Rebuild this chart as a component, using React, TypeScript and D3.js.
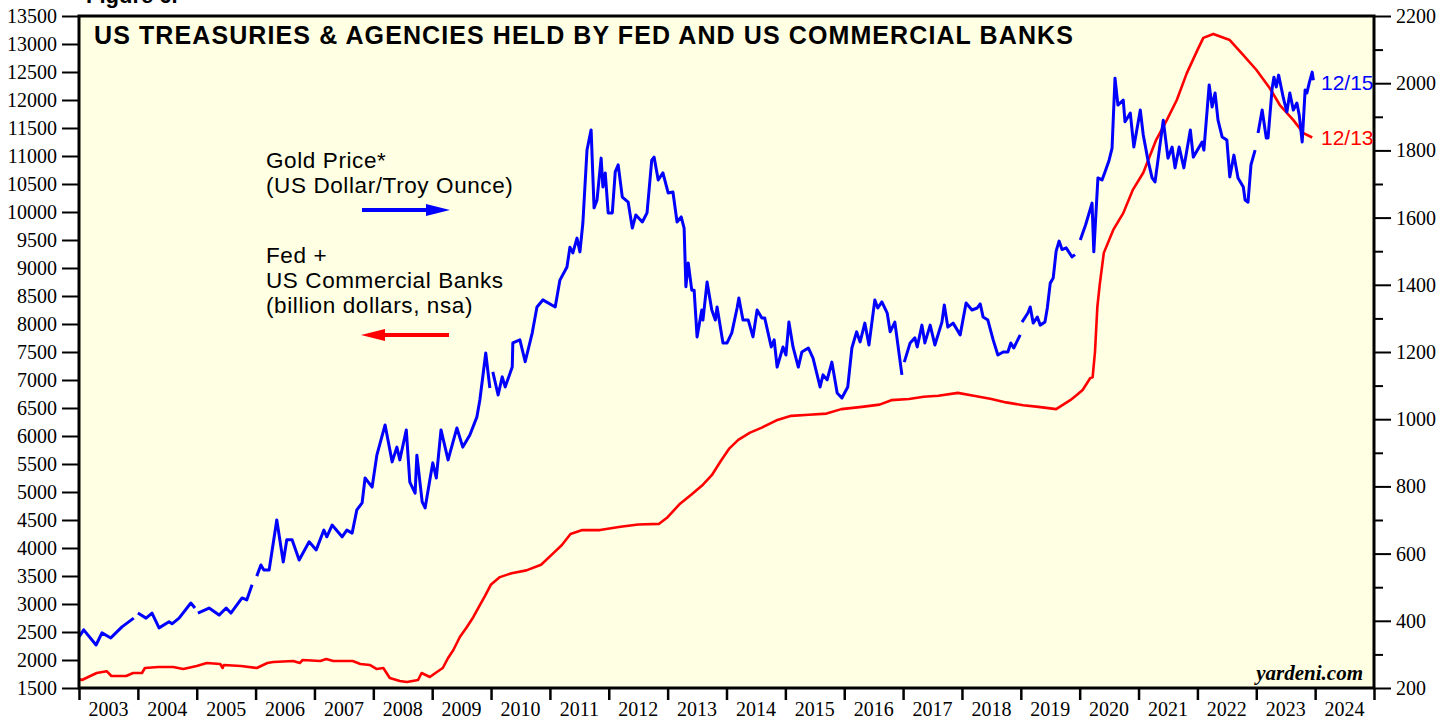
import React, { useRef, useEffect } from "react";
import * as d3 from "d3";

// Fed + US commercial banks holdings of Treasuries & agencies (billion $, left axis)
const fedDates = [
  2003.0, 2003.05, 2003.3, 2003.47, 2003.55, 2003.8, 2003.92, 2004.07, 2004.12, 2004.35,
  2004.6, 2004.77, 2005.0, 2005.17, 2005.4, 2005.44, 2005.46, 2005.75, 2006.02, 2006.2,
  2006.3, 2006.64, 2006.75, 2006.8, 2007.1, 2007.2, 2007.32, 2007.65, 2007.78, 2007.94,
  2008.06, 2008.17, 2008.28, 2008.45, 2008.57, 2008.76, 2008.82, 2008.96, 2009.08, 2009.18,
  2009.27, 2009.36, 2009.47, 2009.59, 2009.7, 2009.81, 2009.9, 2010.0, 2010.15, 2010.35,
  2010.6, 2010.85, 2011.05, 2011.2, 2011.35, 2011.55, 2011.85, 2012.2, 2012.5, 2012.85,
  2013.0, 2013.2, 2013.4, 2013.6, 2013.75, 2013.9, 2014.05, 2014.2, 2014.4, 2014.6,
  2014.85, 2015.1, 2015.4, 2015.7, 2015.95, 2016.3, 2016.6, 2016.8, 2017.1, 2017.35,
  2017.6, 2017.93, 2018.2, 2018.5, 2018.75, 2019.04, 2019.3, 2019.6, 2019.84, 2019.95,
  2020.05, 2020.18, 2020.22, 2020.26, 2020.3, 2020.34, 2020.41, 2020.57, 2020.74, 2020.9,
  2021.08, 2021.3, 2021.48, 2021.65, 2021.82, 2022.0, 2022.1, 2022.27, 2022.55, 2022.78,
  2023.0, 2023.23, 2023.4, 2023.63, 2023.8, 2023.95,
];
const fedValues = [
  1660, 1643, 1768, 1800, 1714, 1714, 1768, 1768, 1857, 1875,
  1875, 1840, 1893, 1946, 1929, 1857, 1911, 1893, 1857, 1946,
  1964, 1982, 1946, 2000, 1982, 2018, 1982, 1982, 1929, 1911,
  1839, 1857, 1679, 1625, 1607, 1643, 1768, 1696, 1786, 1857,
  2036, 2179, 2411, 2589, 2768, 2982, 3150, 3350, 3480, 3550,
  3600, 3700, 3900, 4050, 4250, 4320, 4320, 4380, 4420, 4430,
  4550, 4780, 4950, 5130, 5300, 5550, 5780, 5930, 6060, 6150,
  6280, 6360, 6380, 6400, 6480, 6520, 6560, 6640, 6660, 6700,
  6720, 6770, 6720, 6660, 6600, 6550, 6520, 6480, 6640, 6732,
  6821, 7036, 7050, 7500, 8300, 8700, 9270, 9680, 9980, 10390,
  10700, 11290, 11640, 12000, 12480, 12890, 13110, 13180, 13070, 12800,
  12540, 12210, 11910, 11640, 11410, 11330,
];

// Gold price, US$ per troy ounce (right axis); null marks a break in the series
const goldDates = [
  2003.0, 2003.08, 2003.29, 2003.39, 2003.54, 2003.73, 2003.93, 2003.96,
  2004.0, 2004.14, 2004.24, 2004.36, 2004.53, 2004.58, 2004.7, 2004.9, 2004.97, 2004.99,
  2005.02, 2005.21, 2005.38, 2005.5, 2005.58, 2005.77, 2005.85, 2005.94, 2005.98,
  2006.02, 2006.09, 2006.14, 2006.23, 2006.36, 2006.47, 2006.53, 2006.62, 2006.74, 2006.91,
  2007.03, 2007.16, 2007.21, 2007.3, 2007.47, 2007.55, 2007.64, 2007.72, 2007.81, 2007.86,
  2007.98, 2008.06, 2008.2, 2008.32, 2008.4, 2008.45, 2008.56, 2008.62, 2008.71, 2008.74,
  2008.83, 2008.88, 2008.96, 2009.01, 2009.07, 2009.15, 2009.27, 2009.42, 2009.52, 2009.64,
  2009.76, 2009.81, 2009.91, 2009.98, 2010.0,
  2010.03, 2010.12, 2010.19, 2010.24, 2010.36, 2010.37, 2010.49, 2010.58, 2010.7, 2010.78,
  2010.88, 2011.09, 2011.17, 2011.29, 2011.34, 2011.39, 2011.46, 2011.51, 2011.56, 2011.63,
  2011.7, 2011.75, 2011.8, 2011.87, 2011.9, 2011.94, 2011.99, 2012.06, 2012.11, 2012.16,
  2012.23, 2012.33, 2012.4, 2012.46, 2012.57, 2012.65, 2012.73, 2012.77, 2012.84, 2012.92,
  2013.01, 2013.09, 2013.16, 2013.23, 2013.28, 2013.31, 2013.35, 2013.41, 2013.45, 2013.5,
  2013.58, 2013.6, 2013.67, 2013.75, 2013.81, 2013.84, 2013.94, 2014.01, 2014.09, 2014.18,
  2014.21, 2014.28, 2014.37, 2014.45, 2014.52, 2014.6, 2014.65, 2014.76, 2014.81, 2014.86,
  2014.96, 2015.01, 2015.06, 2015.13, 2015.22, 2015.28, 2015.39, 2015.47, 2015.59, 2015.64,
  2015.71, 2015.79, 2015.88, 2015.96, 2016.06, 2016.13, 2016.21, 2016.27, 2016.35, 2016.42,
  2016.52, 2016.57, 2016.64, 2016.73, 2016.78, 2016.86, 2016.98, 2017.0,
  2017.02, 2017.12, 2017.2, 2017.24, 2017.32, 2017.37, 2017.46, 2017.54, 2017.66, 2017.7,
  2017.76, 2017.85, 2017.97, 2018.07, 2018.17, 2018.26, 2018.31, 2018.36, 2018.44, 2018.53,
  2018.61, 2018.7, 2018.78, 2018.83, 2018.88, 2018.99, 2019.0,
  2019.02, 2019.12, 2019.16, 2019.21, 2019.28, 2019.33, 2019.41, 2019.45, 2019.5, 2019.55,
  2019.6, 2019.65, 2019.7, 2019.77, 2019.87, 2019.92, 2019.96,
  2020.01, 2020.1, 2020.21, 2020.24, 2020.31, 2020.38, 2020.43, 2020.5, 2020.55, 2020.6,
  2020.65, 2020.74, 2020.77, 2020.86, 2020.92, 2021.03, 2021.08, 2021.16, 2021.23, 2021.28,
  2021.33, 2021.42, 2021.5, 2021.57, 2021.62, 2021.69, 2021.77, 2021.88, 2021.93, 2022.08,
  2022.11, 2022.2, 2022.25, 2022.3, 2022.35, 2022.42, 2022.5, 2022.55, 2022.62, 2022.69,
  2022.78, 2022.81, 2022.86, 2022.91, 2022.98, 2023.0,
  2023.03, 2023.1, 2023.17, 2023.2, 2023.27, 2023.3, 2023.34, 2023.38, 2023.46, 2023.52,
  2023.57, 2023.63, 2023.69, 2023.73, 2023.78, 2023.83, 2023.86, 2023.9, 2023.95, 2023.97,
];
const goldPrices: (number | null)[] = [
  352, 373, 328, 364, 349, 382, 408, null,
  423, 408, 423, 379, 397, 391, 408, 453, 438, null,
  423, 438, 417, 438, 423, 468, 462, 507, null,
  533, 566, 551, 551, 700, 575, 641, 641, 581, 635,
  611, 670, 650, 685, 650, 670, 661, 730, 751, 825,
  798, 893, 983, 873, 917, 879, 968, 813, 780, 893,
  754, 736, 819, 870, 825, 968, 879, 974, 917, 953,
  1007, 1057, 1197, 1093, null,
  1141, 1072, 1126, 1096, 1155, 1227, 1236, 1171, 1257, 1334,
  1355, 1334, 1414, 1453, 1512, 1495, 1539, 1498, 1584, 1801,
  1861, 1629, 1652, 1777, 1691, 1733, 1614, 1614, 1736, 1757,
  1661, 1646, 1569, 1608, 1587, 1614, 1771, 1780, 1712, 1733,
  1673, 1676, 1587, 1602, 1569, 1394, 1465, 1384, 1384, 1245,
  1325, 1295, 1408, 1325, 1295, 1334, 1227, 1227, 1257, 1331,
  1361, 1295, 1295, 1245, 1325, 1301, 1301, 1215, 1236, 1155,
  1215, 1191, 1289, 1215, 1155, 1200, 1212, 1182, 1096, 1132,
  1117, 1170, 1078, 1063, 1096, 1212, 1260, 1230, 1286, 1221,
  1355, 1331, 1349, 1316, 1260, 1289, 1132, null,
  1170, 1227, 1242, 1215, 1280, 1227, 1280, 1221, 1289, 1340,
  1274, 1286, 1251, 1346, 1325, 1331, 1343, 1304, 1295, 1236,
  1191, 1200, 1200, 1227, 1212, 1251, null,
  1289, 1316, 1334, 1286, 1304, 1280, 1289, 1331, 1405, 1420,
  1500, 1530, 1505, 1510, 1483, 1490, null,
  1533, 1578, 1643, 1498, 1718, 1712, 1736, 1771, 1807, 2015,
  1935, 1950, 1885, 1911, 1810, 1920, 1846, 1771, 1718, 1706,
  1771, 1890, 1777, 1810, 1748, 1810, 1748, 1861, 1780, 1825,
  1801, 1995, 1929, 1971, 1890, 1840, 1831, 1721, 1786, 1718,
  1691, 1652, 1646, 1757, 1801, null,
  1852, 1920, 1837, 1837, 1986, 2018, 1989, 2024, 1956, 1914,
  1971, 1920, 1941, 1905, 1825, 1980, 1971, 2001, 2033, 2009,
];

const yearLabels = [
  2003, 2004, 2005, 2006, 2007, 2008, 2009, 2010, 2011, 2012, 2013,
  2014, 2015, 2016, 2017, 2018, 2019, 2020, 2021, 2022, 2023, 2024,
];
const leftTicks = [
  1500, 2000, 2500, 3000, 3500, 4000, 4500, 5000, 5500, 6000, 6500, 7000, 7500,
  8000, 8500, 9000, 9500, 10000, 10500, 11000, 11500, 12000, 12500, 13000, 13500,
];
const rightTicks = [200, 400, 600, 800, 1000, 1200, 1400, 1600, 1800, 2000, 2200];
const rightMinorTicks = [300, 500, 700, 900, 1100, 1300, 1500, 1700, 1900, 2100];

const SANS = "'Liberation Sans', Arial, Helvetica, sans-serif";
const SERIF = "'Liberation Serif', 'Times New Roman', Times, serif";

export default function App() {
  const svgRef = useRef<SVGSVGElement | null>(null);

  useEffect(() => {
    const svg = d3.select(svgRef.current);
    const width = 1456;
    const height = 719;
    const margin = { top: 16, right: 82, bottom: 31, left: 79 };
    const x0 = margin.left;
    const x1 = width - margin.right;
    const y0 = height - margin.bottom;
    const y1 = margin.top;

    svg.selectAll("*").remove();

    const x = d3.scaleLinear().domain([2003, 2025]).range([x0, x1]);
    const yLeft = d3.scaleLinear().domain([1500, 13500]).range([y0, y1]);
    const yRight = d3.scaleLinear().domain([200, 2200]).range([y0, y1]);

    // figure label, mostly above the top edge like in the source
    svg.append("text").attr("x", 86).attr("y", 3)
      .attr("font-family", SANS).attr("font-weight", "bold").attr("font-size", 22)
      .text("Figure 6.");

    // plot background
    svg.append("rect")
      .attr("x", x0).attr("y", y1).attr("width", x1 - x0).attr("height", y0 - y1)
      .attr("fill", "#FFFFE3");

    svg.append("clipPath").attr("id", "plot-clip")
      .append("rect").attr("x", x0).attr("y", y1).attr("width", x1 - x0).attr("height", y0 - y1);

    const plot = svg.append("g").attr("clip-path", "url(#plot-clip)");

    // fed + banks line
    const fedLine = d3.line<number>()
      .x((_, i) => x(fedDates[i]))
      .y((d) => yLeft(d));
    plot.append("path")
      .datum(fedValues)
      .attr("d", fedLine)
      .attr("fill", "none").attr("stroke", "#FF0000").attr("stroke-width", 2.6)
      .attr("stroke-linejoin", "round");

    // gold line with breaks
    const goldLine = d3.line<number | null>()
      .defined((d) => d !== null)
      .x((_, i) => x(goldDates[i]))
      .y((d) => yRight(d as number));
    plot.append("path")
      .datum(goldPrices)
      .attr("d", goldLine)
      .attr("fill", "none").attr("stroke", "#0000FF").attr("stroke-width", 3)
      .attr("stroke-linejoin", "round");

    // left axis
    const gl = svg.append("g").attr("transform", `translate(${x0},0)`)
      .call(d3.axisLeft(yLeft).tickValues(leftTicks).tickSize(17).tickPadding(5).tickFormat((d) => `${d}`));
    gl.select(".domain").remove();
    gl.selectAll("line").attr("stroke", "#000").attr("stroke-width", 2);
    gl.selectAll("text").attr("font-family", SERIF).attr("font-size", 20).attr("fill", "#000");

    // right axis
    const gr = svg.append("g").attr("transform", `translate(${x1},0)`)
      .call(d3.axisRight(yRight).tickValues(rightTicks).tickSize(17).tickPadding(5).tickFormat((d) => `${d}`));
    gr.select(".domain").remove();
    gr.selectAll("line").attr("stroke", "#000").attr("stroke-width", 2);
    gr.selectAll("text").attr("font-family", SERIF).attr("font-size", 20).attr("fill", "#000");

    const grm = svg.append("g").attr("transform", `translate(${x1},0)`)
      .call(d3.axisRight(yRight).tickValues(rightMinorTicks).tickSize(9).tickFormat(() => ""));
    grm.select(".domain").remove();
    grm.selectAll("line").attr("stroke", "#000").attr("stroke-width", 2);

    // bottom axis: year boundary ticks, labels centred in each year
    const gb = svg.append("g").attr("transform", `translate(0,${y0})`)
      .call(d3.axisBottom(x).tickValues([...yearLabels, 2025]).tickSize(12).tickFormat(() => ""));
    gb.select(".domain").remove();
    gb.selectAll("line").attr("stroke", "#000").attr("stroke-width", 2.5);

    svg.append("g").selectAll("text")
      .data(yearLabels)
      .join("text")
      .attr("x", (d) => x(d + 0.5))
      .attr("y", 716)
      .attr("text-anchor", "middle")
      .attr("font-family", SERIF).attr("font-size", 20)
      .text((d) => `${d}`);

    // frame
    svg.append("rect")
      .attr("x", x0).attr("y", y1).attr("width", x1 - x0).attr("height", y0 - y1)
      .attr("fill", "none").attr("stroke", "#000").attr("stroke-width", 3);

    // title
    svg.append("text").attr("x", 94).attr("y", 44)
      .attr("font-family", SANS).attr("font-weight", "bold").attr("font-size", 25)
      .attr("letter-spacing", 1.1)
      .text("US TREASURIES & AGENCIES HELD BY FED AND US COMMERCIAL BANKS");

    // legend texts
    const legend = svg.append("g").attr("font-family", SANS).attr("font-size", 22.5)
      .attr("letter-spacing", 0.6).attr("fill", "#000");
    legend.append("text").attr("x", 266).attr("y", 168).text("Gold Price*");
    legend.append("text").attr("x", 266).attr("y", 193).text("(US Dollar/Troy Ounce)");
    legend.append("text").attr("x", 266).attr("y", 263).text("Fed +");
    legend.append("text").attr("x", 266).attr("y", 288).text("US Commercial Banks");
    legend.append("text").attr("x", 266).attr("y", 313).text("(billion dollars, nsa)");

    // arrows
    svg.append("line").attr("x1", 362).attr("x2", 430).attr("y1", 210).attr("y2", 210)
      .attr("stroke", "#0000FF").attr("stroke-width", 4);
    svg.append("path").attr("d", "M426,204 L450,210 L426,216 Z").attr("fill", "#0000FF");
    svg.append("line").attr("x1", 381).attr("x2", 449).attr("y1", 335).attr("y2", 335)
      .attr("stroke", "#FF0000").attr("stroke-width", 4);
    svg.append("path").attr("d", "M385,329 L361,335 L385,341 Z").attr("fill", "#FF0000");

    // end-date labels
    svg.append("text").attr("x", 1321).attr("y", 83).attr("dy", "0.35em")
      .attr("font-family", SANS).attr("font-size", 21).attr("fill", "#0000FF").text("12/15");
    svg.append("text").attr("x", 1321).attr("y", 138).attr("dy", "0.35em")
      .attr("font-family", SANS).attr("font-size", 21).attr("fill", "#FF0000").text("12/13");

    // source
    svg.append("text").attr("x", 1363).attr("y", 680).attr("text-anchor", "end")
      .attr("font-family", SERIF).attr("font-weight", "bold").attr("font-style", "italic")
      .attr("font-size", 21).text("yardeni.com");
  }, []);

  return (
    <svg
      ref={svgRef}
      width={1456}
      height={719}
      style={{ position: "absolute", left: 0, top: 0, display: "block", background: "#fff" }}
    />
  );
}
